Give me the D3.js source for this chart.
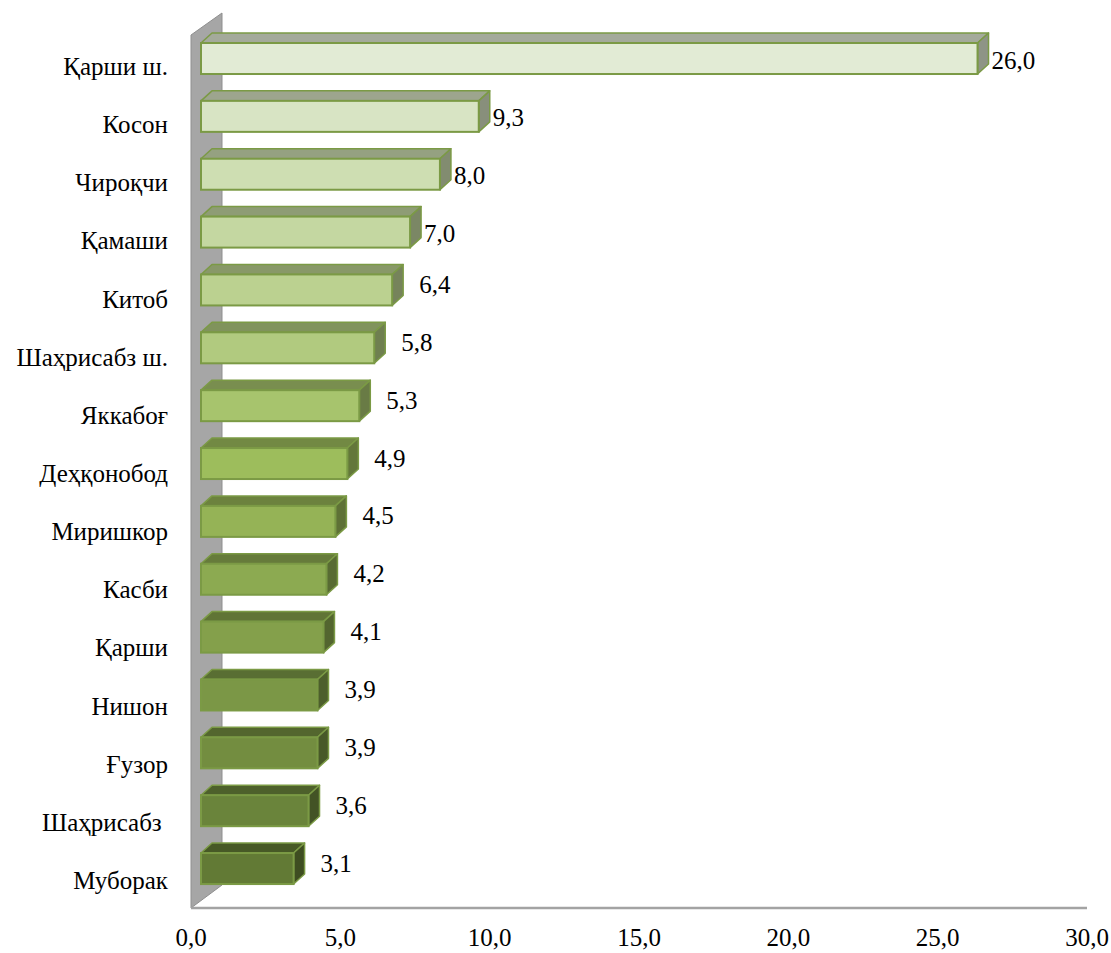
<!DOCTYPE html>
<html>
<head>
<meta charset="utf-8">
<script src="https://cdn.jsdelivr.net/npm/d3@7/dist/d3.min.js"></script>
<style>
  html, body { margin: 0; padding: 0; background: #ffffff; }
  #wrap { position: relative; width: 1111px; height: 953px; }
  #chart { display: block; position: absolute; left: 0; top: 0; }
  #labels { position: absolute; left: 0; top: 0; width: 1111px; height: 953px; }
</style>
</head>
<body>
<div id="wrap"><svg id="chart" width="1111" height="953"></svg><div id="labels"></div></div>
<script>
const categories = ["Қарши ш.", "Косон", "Чироқчи", "Қамаши", "Китоб", "Шаҳрисабз ш.", "Яккабоғ", "Деҳқонобод", "Миришкор", "Касби", "Қарши", "Нишон", "Ғузор", "Шаҳрисабз ", "Муборак"];
const values = [26.0, 9.3, 8.0, 7.0, 6.4, 5.8, 5.3, 4.9, 4.5, 4.2, 4.1, 3.9, 3.9, 3.6, 3.1];
const tickValues = [0, 5, 10, 15, 20, 25, 30];

const svg = d3.select("#chart");
const fmt = v => v.toFixed(1).replace(".", ",");
const FS = 25, ASC = 0.8375 * FS;

// geometry
const originX = 191, floorY = 908;
const wallDX = 31, wallDY = -22;
const barOffX = 10;
const depthDX = 11, depthDY = -10;
const x = d3.scaleLinear().domain([0, 30]).range([0, 896]);
const step = 57.86;
const y = d3.scaleBand().domain(categories)
  .range([43 - 0.232 * step, 43 - 0.232 * step + categories.length * step])
  .paddingInner(0.464).paddingOuter(0.232);
const bw = y.bandwidth();

const color = d3.scaleLinear().domain([0, 7, 14])
  .range(["#e2ebd5", "#9dbd5c", "#627a35"]).interpolate(d3.interpolateRgb);

// labels collected as HTML with inline serif font
const labelSpecs = [];
function label(text, xPos, baseY, anchor) {
  labelSpecs.push({ text, xPos, baseY, anchor });
}
const esc = s => s.replace(/&/g, "&amp;").replace(/</g, "&lt;");

// wall
svg.append("polygon")
  .attr("points", [[originX, 35], [originX + wallDX, 35 + wallDY], [originX + wallDX, floorY + wallDY - 1], [originX, floorY]].map(p => p.join(",")).join(" "))
  .attr("fill", "#a6a6a6").attr("stroke", "#8f8f8f").attr("stroke-width", 1);

// floor line
svg.append("line")
  .attr("x1", originX).attr("x2", originX + x(30))
  .attr("y1", floorY).attr("y2", floorY)
  .attr("stroke", "#a3a3a3").attr("stroke-width", 2.5);

// tick labels
tickValues.forEach(d => label(fmt(d), originX + x(d), 946, "middle"));

// bars
const bars = svg.append("g").selectAll("g").data(categories).join("g");
const stroke = "#7b9a45";
bars.each(function (c, i) {
  const g = d3.select(this);
  const x0 = originX + barOffX;
  const w = x(values[i]);
  const y0 = y(c);
  const front = d3.color(color(i));
  const top = front.darker(0.9);
  const side = front.darker(1.3);
  g.append("polygon")
    .attr("points", [[x0, y0], [x0 + depthDX, y0 + depthDY], [x0 + w + depthDX, y0 + depthDY], [x0 + w, y0]].map(p => p.join(",")).join(" "))
    .attr("fill", top).attr("stroke", stroke).attr("stroke-width", 1.5).attr("stroke-linejoin", "round");
  g.append("polygon")
    .attr("points", [[x0 + w, y0], [x0 + w + depthDX, y0 + depthDY], [x0 + w + depthDX, y0 + bw + depthDY], [x0 + w, y0 + bw]].map(p => p.join(",")).join(" "))
    .attr("fill", side).attr("stroke", stroke).attr("stroke-width", 1.5).attr("stroke-linejoin", "round");
  g.append("rect")
    .attr("x", x0).attr("y", y0).attr("width", w).attr("height", bw)
    .attr("fill", front).attr("stroke", stroke).attr("stroke-width", 2);
  const big = values[i] >= 7;
  const sideEnd = x0 + w + depthDX;
  label(fmt(values[i]), sideEnd + (big ? 3 : 16), y0 + bw / 2 + (big ? 10 : 3), "start");
});

// category labels
categories.forEach((d, i) => label(d, 168, y(d) + bw / 2 + 16.5 + i * 0.28, "end"));

document.getElementById("labels").innerHTML = labelSpecs.map(s => {
  const tx = s.anchor === "end" ? "-100%" : s.anchor === "middle" ? "-50%" : "0";
  return `<div style="font-family:'Liberation Serif'; font-size:${FS}px; position:absolute; white-space:pre; line-height:1; color:#000; left:${s.xPos}px; top:${s.baseY - ASC}px; transform:translateX(${tx})">${esc(s.text)}</div>`;
}).join("");
</script>
</body>
</html>
